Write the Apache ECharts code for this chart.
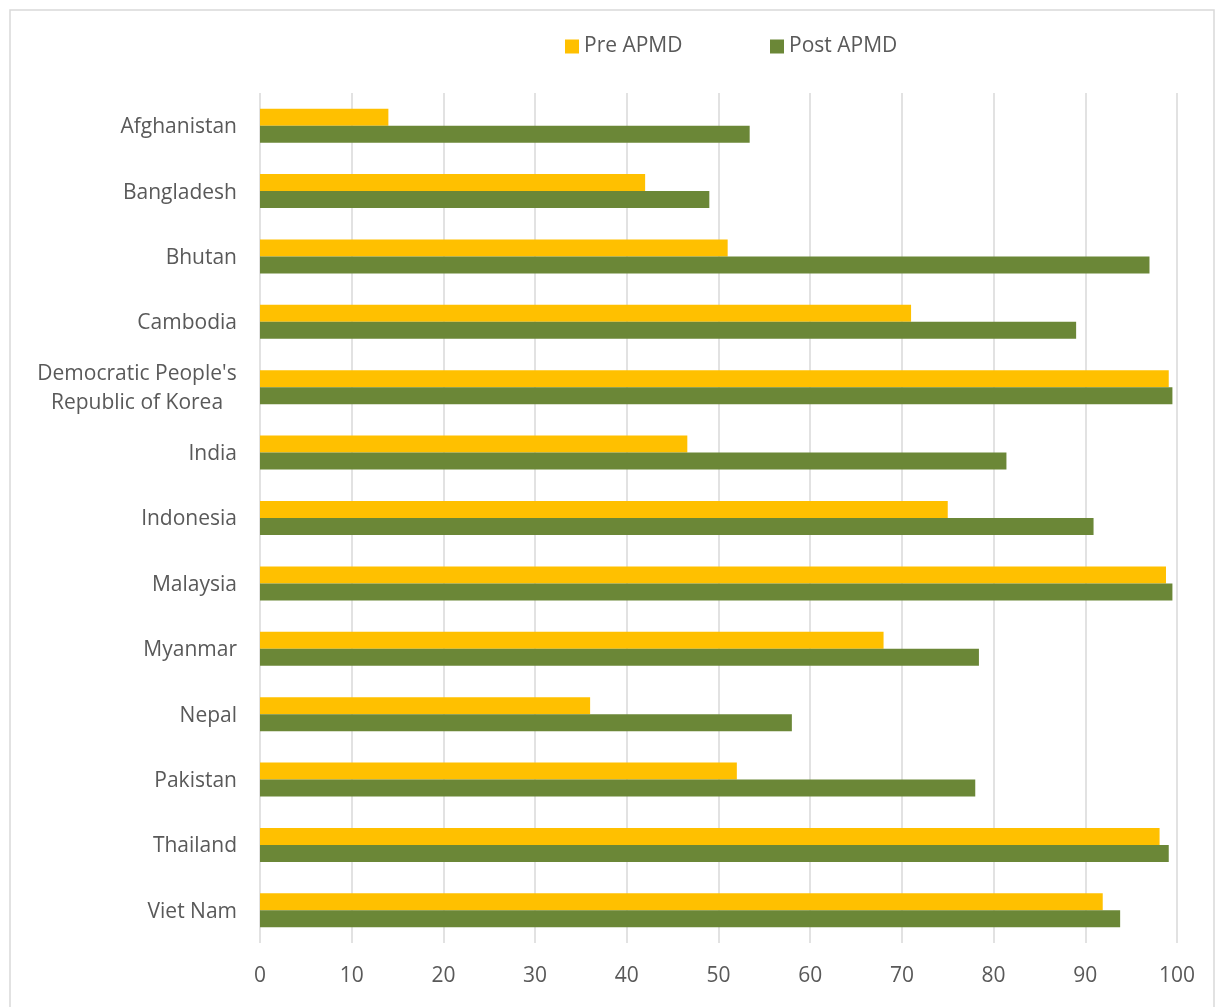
<!DOCTYPE html>
<html>
<head>
<meta charset="utf-8">
<title>Pre and Post APMD</title>
<script src="https://cdn.jsdelivr.net/npm/echarts@6/dist/echarts.min.js"></script>
<style>
  html, body { margin: 0; padding: 0; background: #ffffff; }
  #chart { width: 1218px; height: 1007px; }
</style>
</head>
<body>
<div id="chart"></div>
<script>
// Countries, listed top to bottom
const countries = [
  'Afghanistan', 'Bangladesh', 'Bhutan', 'Cambodia',
  "Democratic People's\nRepublic of Korea",
  'India', 'Indonesia', 'Malaysia', 'Myanmar', 'Nepal',
  'Pakistan', 'Thailand', 'Viet Nam'
];

// Percentages before and after APMD
const preAPMD  = [14, 42, 51, 71, 99.1, 46.6, 75, 98.8, 68, 36, 52, 98.1, 91.9];
const postAPMD = [53.4, 49, 97, 89, 99.5, 81.4, 90.9, 99.5, 78.4, 58, 78, 99.1, 93.8];

const seriesNames = ['Pre APMD', 'Post APMD'];
const xTicks = { min: 0, max: 100, step: 10 };

const FONT = '"Open Sans", Lato, sans-serif';
const FS = 21;
const TEXT = '#595959';
const GRID = '#d9d9d9';
const COLORS = ['#FFC000', '#6B8737'];

const chart = echarts.init(document.getElementById('chart'), null, { renderer: 'canvas' });

const legendBase = {
  orient: 'horizontal',
  top: 36,
  padding: 0,
  icon: 'rect',
  itemWidth: 14,
  itemHeight: 14,
  itemGap: 6,
  textStyle: { color: TEXT, fontSize: FS, fontFamily: FONT },
  selectedMode: false
};

chart.setOption({
  animation: false,
  backgroundColor: '#ffffff',
  color: COLORS,
  graphic: [{
    type: 'rect',
    shape: { x: 10, y: 10, width: 1204, height: 1020 },
    style: { fill: 'none', stroke: '#d9d9d9', lineWidth: 1.5 },
    silent: true
  }],
  legend: [
    Object.assign({}, legendBase, { left: 565, data: [seriesNames[0]] }),
    Object.assign({}, legendBase, { left: 770, data: [seriesNames[1]] })
  ],
  grid: { left: 260, right: 41, top: 93, bottom: 64, containLabel: false },
  xAxis: {
    type: 'value',
    min: xTicks.min,
    max: xTicks.max,
    interval: xTicks.step,
    axisLine: { show: false },
    axisTick: { show: false },
    splitLine: { show: true, lineStyle: { color: GRID, width: 1.5 } },
    axisLabel: { color: TEXT, fontSize: FS, fontFamily: FONT, margin: 23 }
  },
  yAxis: {
    type: 'category',
    inverse: true,
    data: countries,
    axisLine: { show: false },
    axisTick: { show: false },
    axisLabel: {
      color: TEXT,
      fontSize: FS,
      fontFamily: FONT,
      margin: 23,
      lineHeight: 29,
      padding: [3, 0, 0, 0],
      formatter: function (v) {
        return v.indexOf('\n') >= 0 ? '{c|' + v + '}' : v;
      },
      rich: {
        c: { width: 200, align: 'center', fontSize: FS, fontFamily: FONT, color: TEXT, lineHeight: 29 }
      }
    }
  },
  series: [
    {
      name: seriesNames[0],
      type: 'bar',
      data: preAPMD,
      barWidth: 17,
      barGap: '0%',
      itemStyle: { color: COLORS[0] }
    },
    {
      name: seriesNames[1],
      type: 'bar',
      data: postAPMD,
      barWidth: 17,
      barGap: '0%',
      itemStyle: { color: COLORS[1] }
    }
  ]
});
</script>
</body>
</html>
